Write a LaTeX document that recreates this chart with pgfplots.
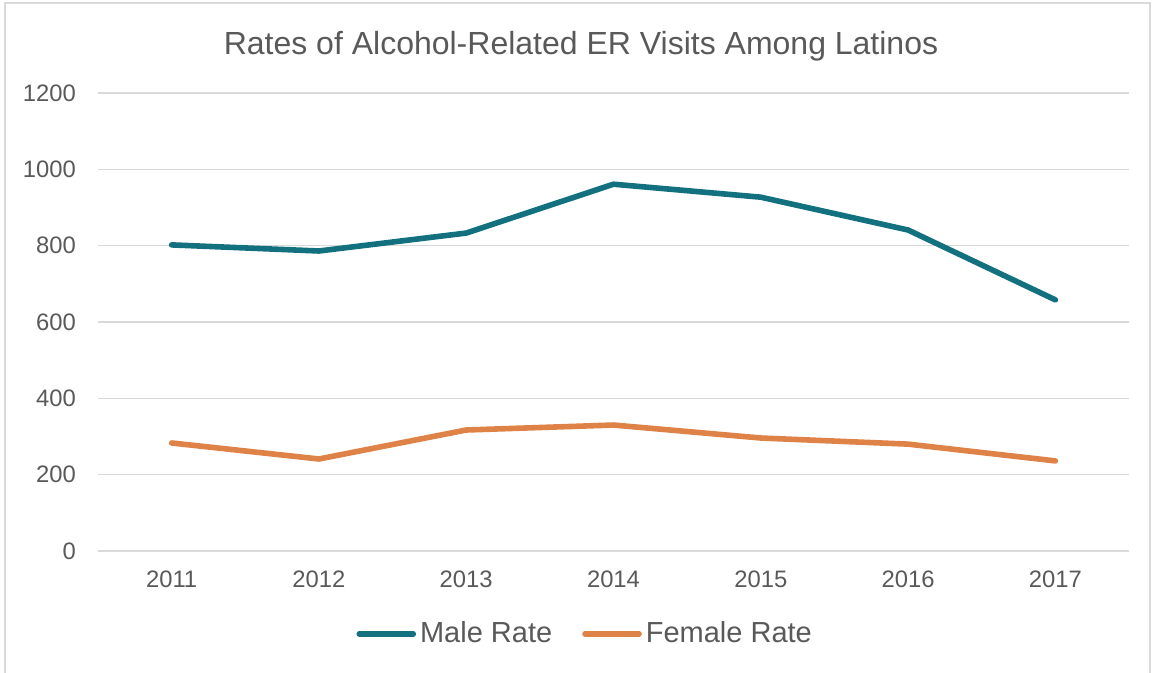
\documentclass[border=0pt]{standalone}
\usepackage{fontspec}
\setmainfont{Liberation Sans}
\usepackage{pgfplots}
\pgfplotsset{compat=1.18}
\definecolor{maleC}{HTML}{13707E}
\definecolor{femaleC}{HTML}{DF8247}
\definecolor{txt}{HTML}{595959}
\definecolor{gridC}{HTML}{D9D9D9}
\begin{document}
\begin{tikzpicture}
\useasboundingbox (0,0) rectangle (576.5pt,336.5pt);
\draw[gridC, line width=0.9pt] (2.5pt,0pt) -- (2.5pt,335pt) -- (575pt,335pt) -- (575pt,0pt);
\node[txt, font=\fontsize{16}{19}\selectfont] at (290.5pt,313.5pt) {Rates of Alcohol-Related ER Visits Among Latinos};
\begin{axis}[
  at={(49pt,61pt)}, anchor=south west,
  scale only axis, width=515.5pt, height=229pt,
  xmin=-0.5, xmax=6.5, ymin=0, ymax=1200,
  xtick={0,1,2,3,4,5,6},
  xticklabels={2011,2012,2013,2014,2015,2016,2017},
  ytick={0,200,400,600,800,1000,1200},
  major tick length=0pt,
  axis line style={draw=none},
  ymajorgrids, grid style={gridC, line width=0.75pt},
  tick label style={txt, font=\fontsize{11.9}{14}\selectfont},
  /pgf/number format/assume math mode=true,
  /pgf/number format/1000 sep={},
  y tick label style={xshift=-7.5pt},
  x tick label style={yshift=-6.5pt},
  legend style={at={(0.4735,-0.181)}, anchor=center, draw=none, fill=none,
    legend columns=2, font=\fontsize{14.5}{17}\selectfont, text=txt,
    /tikz/every even column/.append style={column sep=13pt},
    inner sep=0pt},
  legend image code/.code={\draw[#1, line cap=round] (0pt,0pt) -- (27pt,0pt);},
  clip=false,
]
\addplot[maleC, line width=2.8pt, line cap=round, line join=round] coordinates {
 (0,802) (1,786) (2,833) (3,961) (4,927) (5,841) (6,658)};
\addlegendentry{Male Rate}
\addplot[femaleC, line width=2.8pt, line cap=round, line join=round] coordinates {
 (0,283) (1,241) (2,317) (3,330) (4,296) (5,280) (6,236)};
\addlegendentry{Female Rate}
\end{axis}
\end{tikzpicture}
\end{document}
